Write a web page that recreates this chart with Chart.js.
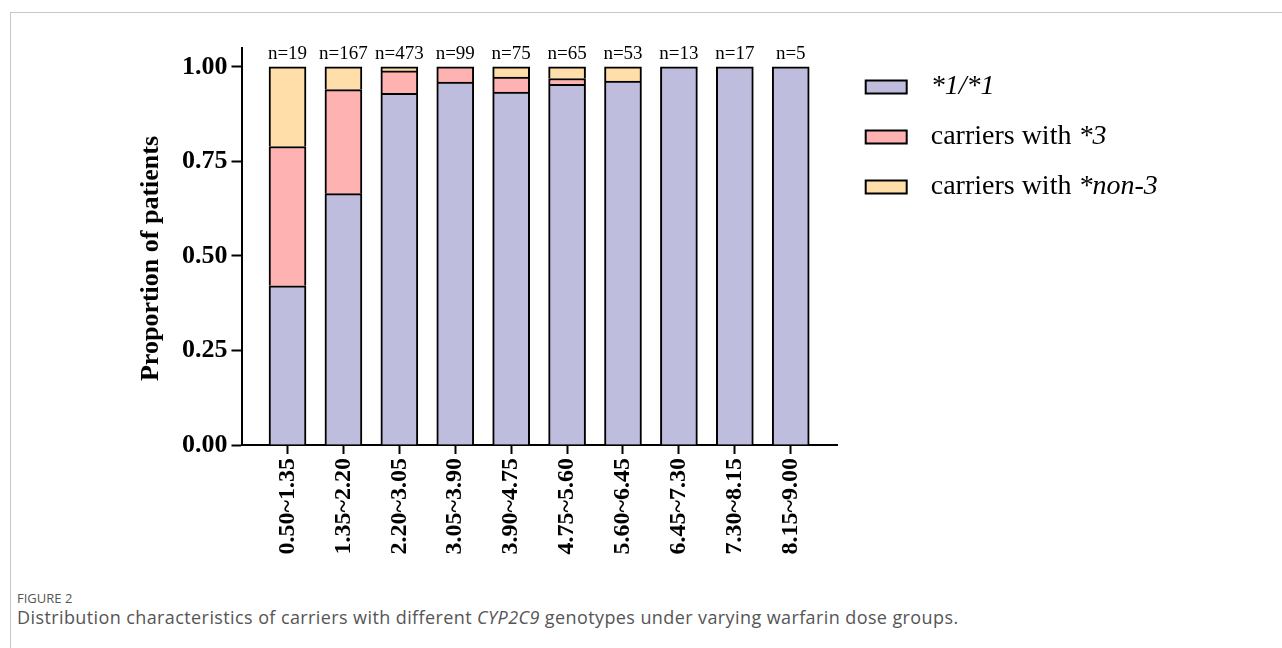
<!DOCTYPE html>
<html>
<head>
<meta charset="utf-8">
<script src="https://cdn.jsdelivr.net/npm/chart.js@4/dist/chart.umd.min.js"></script>
<style>
  html, body { margin: 0; padding: 0; background: #fff; }
  body { width: 1282px; height: 648px; position: relative; overflow: hidden; font-family: "Open Sans", sans-serif; }
  .frame { position: absolute; left: 10px; top: 12px; right: -2px; bottom: -2px;
           border-left: 1px solid #c6c6c6; border-top: 1px solid #c6c6c6; }
  #wrap { position: absolute; left: 0; top: 0; width: 1282px; height: 580px; }
  .fig-label { position: absolute; left: 17px; top: 589px; font-size: 13px; color: #555; }
  .fig-caption { position: absolute; left: 17px; top: 605px; font-size: 18px; letter-spacing: 0.4px; color: #555; white-space: nowrap; }
</style>
</head>
<body>
<div class="frame"></div>
<div id="wrap"><canvas id="chart" width="1282" height="580"></canvas></div>
<div class="fig-label">FIGURE 2</div>
<div class="fig-caption">Distribution characteristics of carriers with different <i>CYP2C9</i> genotypes under varying warfarin dose groups.</div>

<script>
// Warfarin dose groups (mg/day)
const doseGroups = ['0.50~1.35', '1.35~2.20', '2.20~3.05', '3.05~3.90', '3.90~4.75',
                    '4.75~5.60', '5.60~6.45', '6.45~7.30', '7.30~8.15', '8.15~9.00'];

// Patient counts per genotype in each dose group
const wildTypeCounts = [8, 111, 440, 95, 70, 62, 51, 13, 17, 5];
const star3Counts    = [7, 46, 28, 4, 3, 1, 0, 0, 0, 0];
const nonStar3Counts = [4, 10, 5, 0, 2, 2, 2, 0, 0, 0];

const seriesNames  = ['*1/*1', 'carriers with *3', 'carriers with *non-3'];
const seriesColors = ['#BFBDDD', '#FFB2B2', '#FFDEAA'];
const yTickValues  = [0, 0.25, 0.5, 0.75, 1];
const yAxisTitle   = 'Proportion of patients';

const totals = doseGroups.map((_, i) => wildTypeCounts[i] + star3Counts[i] + nonStar3Counts[i]);
const toShares = counts => counts.map((c, i) => ({ x: i, y: c / totals[i] }));

const serif = '"Liberation Serif", "Times New Roman", serif';

// "n=..." group sizes above each bar
const groupSizePlugin = {
  id: 'groupSize',
  afterDatasetsDraw(chart) {
    const { ctx, scales: { x, y } } = chart;
    ctx.save();
    ctx.font = '19px ' + serif;
    ctx.fillStyle = '#000';
    ctx.textAlign = 'center';
    ctx.textBaseline = 'alphabetic';
    totals.forEach((n, i) => {
      ctx.fillText('n=' + n, x.getPixelForValue(i), y.getPixelForValue(1) - 8);
    });
    ctx.restore();
  }
};

// Rotated y-axis title, set a little below the axis midpoint
const yTitlePlugin = {
  id: 'yTitle',
  afterDraw(chart) {
    const { ctx, chartArea } = chart;
    ctx.save();
    ctx.translate(151, (chartArea.top + chartArea.bottom) / 2 + 12);
    ctx.rotate(-Math.PI / 2);
    ctx.font = 'bold 26px ' + serif;
    ctx.fillStyle = '#000';
    ctx.textAlign = 'center';
    ctx.textBaseline = 'middle';
    ctx.fillText(yAxisTitle, 0, 0);
    ctx.restore();
  }
};

// Key on the right; the allele part of each name is set in italics
const keyPlugin = {
  id: 'seriesKey',
  afterDraw(chart) {
    const { ctx, chartArea } = chart;
    const x0 = chartArea.right + 28;
    chart.data.datasets.forEach((ds, i) => {
      const cy = chartArea.top + 39 + i * 50;
      ctx.save();
      ctx.fillStyle = ds.backgroundColor;
      ctx.fillRect(x0, cy - 6.5, 41, 13);
      ctx.lineWidth = 2;
      ctx.strokeStyle = '#000';
      ctx.strokeRect(x0, cy - 6.5, 41, 13);
      const star = ds.label.indexOf('*');
      const parts = star < 0 ? [[ds.label, false]]
                             : [[ds.label.slice(0, star), false], [ds.label.slice(star), true]];
      let tx = x0 + 65;
      ctx.fillStyle = '#000';
      ctx.textAlign = 'left';
      ctx.textBaseline = 'middle';
      parts.forEach(([t, italic]) => {
        if (!t) return;
        ctx.font = (italic ? 'italic ' : '') + '28px ' + serif;
        ctx.fillText(t, tx, cy);
        tx += ctx.measureText(t).width;
      });
      ctx.restore();
    });
  }
};

new Chart(document.getElementById('chart'), {
  type: 'bar',
  data: {
    datasets: [
      { label: seriesNames[0], data: toShares(wildTypeCounts), backgroundColor: seriesColors[0] },
      { label: seriesNames[1], data: toShares(star3Counts),    backgroundColor: seriesColors[1] },
      { label: seriesNames[2], data: toShares(nonStar3Counts), backgroundColor: seriesColors[2] }
    ]
  },
  options: {
    responsive: false,
    animation: false,
    layout: { padding: { left: 135, right: 444.3, top: 48, bottom: 0 } },
    datasets: {
      bar: { barThickness: 37, borderColor: '#000', borderWidth: 2, borderSkipped: 'start' }
    },
    plugins: { legend: { display: false }, tooltip: { enabled: false } },
    scales: {
      x: {
        type: 'linear',
        stacked: true,
        offset: false,
        min: -0.823,
        max: 9.84,
        afterBuildTicks: s => { s.ticks = doseGroups.map((_, i) => ({ value: i })); },
        afterFit: s => { s.height = 135; },
        border: { color: '#000', width: 2 },
        grid: { offset: false, drawOnChartArea: false, tickLength: 9, tickWidth: 2, tickColor: '#000' },
        ticks: {
          autoSkip: false, minRotation: 90, maxRotation: 90, padding: 4, color: '#000',
          font: { family: serif, size: 24, weight: 'bold' },
          callback: v => doseGroups[Math.round(v)]
        }
      },
      y: {
        stacked: true,
        min: 0,
        max: 1.05,
        afterBuildTicks: s => { s.ticks = yTickValues.map(v => ({ value: v })); },
        afterFit: s => { s.width = 106.5; },
        border: { color: '#000', width: 2 },
        grid: { drawOnChartArea: false, tickLength: 10, tickWidth: 2, tickColor: '#000' },
        ticks: {
          padding: 4, color: '#000',
          font: { family: serif, size: 26, weight: 'bold' },
          callback: v => Number(v).toFixed(2)
        }
      }
    }
  },
  plugins: [groupSizePlugin, yTitlePlugin, keyPlugin]
});
</script>
</body>
</html>
